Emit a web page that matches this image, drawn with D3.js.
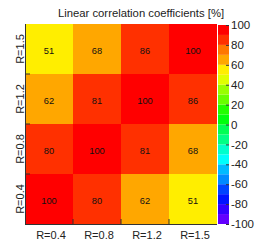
<!DOCTYPE html>
<html>
<head>
<meta charset="utf-8">
<script src="https://cdn.jsdelivr.net/npm/d3@7"></script>
<style>
  body { margin: 0; background: #fff; }
  text { font-family: "Liberation Sans", Arial, sans-serif; }
</style>
</head>
<body>
<svg id="chart" width="261" height="249"></svg>
<script>
// categories, bottom to top on y
var xLabels = ["R=0.4", "R=0.8", "R=1.2", "R=1.5"];
var yLabels = ["R=0.4", "R=0.8", "R=1.2", "R=1.5"];
// correlation values [%], one row per y label
var rowR04 = [100, 80, 62, 51];
var rowR08 = [80, 100, 81, 68];
var rowR12 = [62, 81, 100, 86];
var rowR15 = [51, 68, 86, 100];
var paletteTicks = [-100, -80, -60, -40, -20, 0, 20, 40, 60, 80, 100];
var title = "Linear correlation coefficients [%]";

var rows = [rowR04, rowR08, rowR12, rowR15];
var cells = [];
rows.forEach(function(r, i) {
  r.forEach(function(v, j) { cells.push({x: xLabels[j], y: yLabels[i], v: v}); });
});

var svg = d3.select("#chart");
var pLeft = 25, pRight = 217, pTop = 24, pBottom = 224;

var x = d3.scaleBand().domain(xLabels).range([pLeft, pRight]);
var y = d3.scaleBand().domain(yLabels).range([pBottom, pTop]);

// ROOT "pretty" palette, 50 colours, 20 contour levels
var levels = d3.range(-90, 100, 10);
var nCol = 50, nDiv = 20;
var levelColors = d3.range(nDiv).map(function(j) {
  var idx = Math.floor((j + 0.99) * nCol / nDiv);
  return d3.hsl(280 - (idx + 1) * (280 / nCol), 1, 0.5).toString();
});
var color = d3.scaleThreshold().domain(levels).range(levelColors);

svg.selectAll("rect.cell").data(cells).enter().append("rect")
  .attr("class", "cell")
  .attr("x", function(d) { return x(d.x); })
  .attr("y", function(d) { return y(d.y); })
  .attr("width", x.bandwidth())
  .attr("height", y.bandwidth())
  .attr("fill", function(d) { return color(d.v >= 100 ? 99.9 : d.v); });

svg.selectAll("text.val").data(cells).enter().append("text")
  .attr("class", "val")
  .attr("x", function(d) { return x(d.x) + x.bandwidth() / 2; })
  .attr("y", function(d) { return y(d.y) + y.bandwidth() / 2 + 4.5; })
  .attr("text-anchor", "middle")
  .attr("font-size", "9.3px")
  .attr("fill", "#111")
  .text(function(d) { return d.v; });

// axes: ticks at bin edges pointing inward
var edgesX = xLabels.slice(1).map(function(d) { return x(d); });
var edgesY = yLabels.slice(1).map(function(d) { return y(d) + y.bandwidth(); });
var ax = svg.append("g").attr("stroke", "#333").attr("stroke-width", 1);
ax.append("line").attr("x1", pLeft + 0.5).attr("x2", pLeft + 0.5).attr("y1", pTop).attr("y2", pBottom + 0.5);
ax.append("line").attr("x1", pLeft).attr("x2", pRight).attr("y1", pBottom + 0.5).attr("y2", pBottom + 0.5);
edgesX.forEach(function(e) {
  ax.append("line").attr("x1", e).attr("x2", e).attr("y1", pBottom).attr("y2", pBottom - 5);
});
edgesY.forEach(function(e) {
  ax.append("line").attr("x1", pLeft).attr("x2", pLeft + 5).attr("y1", e).attr("y2", e);
});

svg.selectAll("text.xl").data(xLabels).enter().append("text")
  .attr("class", "xl")
  .attr("x", function(d) { return x(d) + x.bandwidth() / 2 + 2; })
  .attr("y", 238.5)
  .attr("text-anchor", "middle")
  .attr("font-size", "11px")
  .attr("fill", "#222")
  .text(function(d) { return d; });

svg.selectAll("text.yl").data(yLabels).enter().append("text")
  .attr("class", "yl")
  .attr("transform", function(d) { return "translate(23.5," + (y(d) + y.bandwidth() / 2) + ") rotate(-90)"; })
  .attr("text-anchor", "middle")
  .attr("font-size", "11px")
  .attr("fill", "#222")
  .text(function(d) { return d; });

// palette
var z = d3.scaleLinear().domain([-100, 100]).range([224, 25]);
var pal = svg.append("g");
pal.selectAll("rect").data(d3.range(-100, 100, 10)).enter().append("rect")
  .attr("x", 218)
  .attr("width", 11)
  .attr("y", function(d) { return z(d + 10); })
  .attr("height", function(d) { return z(d) - z(d + 10); })
  .attr("fill", function(d) { return color(d + 5); });

var zAxis = d3.axisRight(z).tickValues(paletteTicks).tickFormat(String)
  .tickSizeInner(-3).tickSizeOuter(0).tickPadding(2);
var zg = svg.append("g").attr("transform", "translate(229,0)").call(zAxis);
zg.select(".domain").remove();
zg.selectAll("line").attr("stroke", "#333");
zg.selectAll("text").attr("font-size", "11.5px").attr("fill", "#222").attr("font-family", "Liberation Sans, Arial, sans-serif");

svg.append("text")
  .attr("x", 141)
  .attr("y", 17)
  .attr("text-anchor", "middle")
  .attr("font-size", "11.3px")
  .attr("fill", "#222")
  .text(title);
</script>
</body>
</html>
